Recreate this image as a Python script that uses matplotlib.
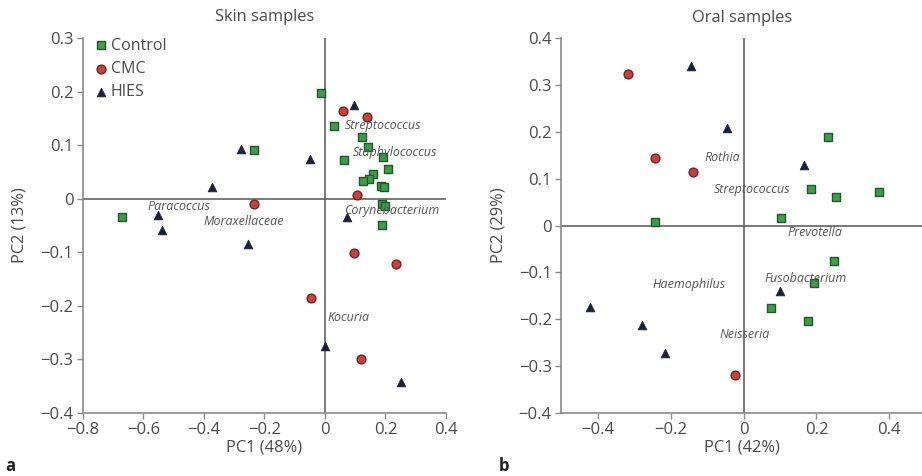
import matplotlib
matplotlib.use('Agg')
import matplotlib.pyplot as plt

plt.rcParams['font.family'] = ['Open Sans', 'DejaVu Sans']
plt.rcParams['axes.unicode_minus'] = True

# skin samples (PC1, PC2)
skin_control_x = [-0.67, -0.235, -0.013, 0.031, 0.122, 0.143, 0.062, 0.192, 0.21, 0.159,
                  0.144, 0.126, 0.185, 0.196, 0.188, 0.199, 0.188]
skin_control_y = [-0.034, 0.090, 0.197, 0.136, 0.116, 0.097, 0.072, 0.077, 0.055, 0.046,
                  0.037, 0.033, 0.024, 0.021, -0.010, -0.013, -0.050]
skin_cmc_x = [0.058, 0.139, 0.107, -0.234, 0.095, 0.235, -0.047, 0.119]
skin_cmc_y = [0.164, 0.152, 0.007, -0.010, -0.102, -0.123, -0.186, -0.300]
skin_hies_x = [0.095, -0.279, -0.050, -0.374, -0.553, -0.540, -0.256, 0.073, -0.001, 0.251]
skin_hies_y = [0.175, 0.092, 0.074, 0.021, -0.030, -0.059, -0.085, -0.034, -0.275, -0.343]
skin_taxa = ['Streptococcus', 'Staphylococcus', 'Corynebacterium', 'Paracoccus',
             'Moraxellaceae', 'Kocuria']
skin_taxa_x = [0.066, 0.091, 0.063, -0.587, -0.40, 0.008]
skin_taxa_y = [0.136, 0.086, -0.023, -0.015, -0.042, -0.222]

# oral samples (PC1, PC2)
oral_control_x = [-0.243, 0.233, 0.185, 0.255, 0.371, 0.104, 0.247, 0.193, 0.075, 0.176]
oral_control_y = [0.008, 0.190, 0.078, 0.060, 0.071, 0.017, -0.076, -0.123, -0.176, -0.204]
oral_cmc_x = [-0.318, -0.243, -0.140, -0.023]
oral_cmc_y = [0.323, 0.145, 0.115, -0.320]
oral_hies_x = [-0.144, -0.045, 0.166, 0.101, -0.421, -0.279, -0.217]
oral_hies_y = [0.340, 0.208, 0.130, -0.139, -0.175, -0.212, -0.272]
oral_taxa = ['Rothia', 'Streptococcus', 'Prevotella', 'Fusobacterium', 'Haemophilus',
             'Neisseria']
oral_taxa_x = [-0.108, -0.081, 0.121, 0.057, -0.251, -0.065]
oral_taxa_y = [0.145, 0.077, -0.014, -0.114, -0.125, -0.233]

green_face, green_edge = '#3f9c4c', '#1d5a28'
red_face, red_edge = '#c8413f', '#7a2020'
tri_color = '#1b1f3a'
axis_gray = '#8a8a8a'
text_gray = '#4a4a4a'


def draw_panel(ax, cx, cy, rx, ry, hx, hy, taxa, tx, ty):
    # zero lines
    ax.axhline(0, color='#555555', lw=1.1, zorder=1)
    ax.axvline(0, color='#555555', lw=1.1, zorder=1)
    ax.scatter(cx, cy, marker='s', s=36, facecolor=green_face, edgecolor=green_edge,
               linewidth=1.0, zorder=3, label='Control')
    ax.scatter(rx, ry, marker='o', s=40, facecolor=red_face, edgecolor=red_edge,
               linewidth=1.0, zorder=3, label='CMC')
    ax.scatter(hx, hy, marker='^', s=40, facecolor=tri_color, edgecolor=tri_color,
               linewidth=0.5, zorder=3, label='HIES')
    for name, x, y in zip(taxa, tx, ty):
        ax.text(x, y, name, style='italic', fontsize=9, color='#555555',
                ha='left', va='center', zorder=4)
    for side in ['top', 'right']:
        ax.spines[side].set_visible(False)
    for side in ['left', 'bottom']:
        ax.spines[side].set_color(axis_gray)
        ax.spines[side].set_linewidth(1.2)
    ax.tick_params(colors=axis_gray, labelcolor=text_gray, labelsize=12, length=4,
                   width=1.0, pad=3)


fig = plt.figure(figsize=(9.22, 4.76), dpi=100)

ax1 = fig.add_axes([0.090, 0.133, 0.3937, 0.787])
draw_panel(ax1, skin_control_x, skin_control_y, skin_cmc_x, skin_cmc_y,
           skin_hies_x, skin_hies_y, skin_taxa, skin_taxa_x, skin_taxa_y)
ax1.set_xlim(-0.8, 0.4)
ax1.set_ylim(-0.4, 0.3)
ax1.set_xticks([-0.8, -0.6, -0.4, -0.2, 0, 0.2, 0.4])
ax1.set_xticklabels(['\u22120.8', '\u22120.6', '\u22120.4', '\u22120.2', '0', '0.2', '0.4'])
ax1.set_yticks([-0.4, -0.3, -0.2, -0.1, 0, 0.1, 0.2, 0.3])
ax1.set_yticklabels(['\u22120.4', '\u22120.3', '\u22120.2', '\u22120.1', '0', '0.1', '0.2', '0.3'])
ax1.set_title('Skin samples', fontsize=11.8, color=text_gray, pad=12)
ax1.set_xlabel('PC1 (48%)', fontsize=11.8, color=text_gray, labelpad=1)
ax1.set_ylabel('PC2 (13%)', fontsize=11.8, color=text_gray, labelpad=9)
ax1.legend(loc='upper left', frameon=False, fontsize=11.5, handletextpad=0.05,
           borderaxespad=0.2, labelspacing=0.45, handlelength=1.1,
           labelcolor=text_gray, bbox_to_anchor=(0.0, 1.027))

ax2 = fig.add_axes([0.609, 0.133, 0.391, 0.7865])
draw_panel(ax2, oral_control_x, oral_control_y, oral_cmc_x, oral_cmc_y,
           oral_hies_x, oral_hies_y, oral_taxa, oral_taxa_x, oral_taxa_y)
ax2.set_xlim(-0.5, 0.49)
ax2.set_ylim(-0.4, 0.4)
ax2.set_xticks([-0.4, -0.2, 0, 0.2, 0.4])
ax2.set_xticklabels(['\u22120.4', '\u22120.2', '0', '0.2', '0.4'])
ax2.set_yticks([-0.4, -0.3, -0.2, -0.1, 0, 0.1, 0.2, 0.3, 0.4])
ax2.set_yticklabels(['\u22120.4', '\u22120.3', '\u22120.2', '\u22120.1', '0', '0.1', '0.2', '0.3', '0.4'])
ax2.set_title('Oral samples', fontsize=11.8, color=text_gray, pad=12)
ax2.set_xlabel('PC1 (42%)', fontsize=11.8, color=text_gray, labelpad=1)
ax2.set_ylabel('PC2 (29%)', fontsize=11.8, color=text_gray, labelpad=9)

fig.text(0.006, 0.01, 'a', fontsize=12, fontweight='bold', color='#222222')
fig.text(0.541, 0.01, 'b', fontsize=12, fontweight='bold', color='#222222')

fig.savefig('out.png', dpi=100)
